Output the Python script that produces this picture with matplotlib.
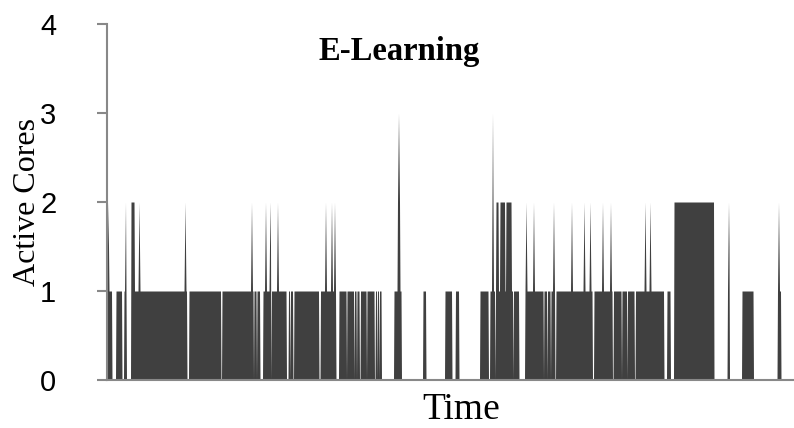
import numpy as np
import matplotlib.pyplot as plt

# level runs: start time, end time, active cores
seg_start = [0, 9, 17, 24, 27.5, 82, 115, 147, 150, 156, 164.5, 181.5, 183.5, 187,
             213.5, 232, 240, 247.5, 250, 253.5, 260, 268.5, 270.5, 272.5,
             287, 290.5, 293, 316, 338, 348.5, 373,
             383, 388.5, 389, 391.5, 393, 398, 399, 404.5, 406.5,
             418, 437, 440.5, 444, 449, 487, 506.5, 515, 520.5, 528.5,
             560, 567, 620.5, 635, 670.5]
seg_end = [5, 15, 19, 27.5, 80, 114, 146.5, 149.5, 153, 164, 179.5, 183, 186, 212,
           229, 239.5, 247, 249.5, 252.5, 259.5, 267.5, 270, 272, 274.5,
           290.5, 293, 294.5, 319, 345, 352, 381.5,
           388, 389, 391.5, 393, 398, 399, 404.5, 406, 412,
           436.5, 440, 443.5, 448, 485.5, 505.5, 514.5, 520, 527.5, 557,
           563.5, 607, 622.5, 646.5, 674]
seg_level = [1, 1, 1, 2, 1, 1, 1, 1, 1, 1, 1, 1, 1, 1,
             1, 1, 1, 1, 1, 1, 1, 1, 1, 1,
             1, 2, 1, 1, 1, 1, 1,
             1, 1, 2, 1, 2, 1, 2, 1, 1,
             1, 1, 1, 1, 1, 1, 1, 1, 1, 1,
             1, 2, 1, 1, 1]

# short bursts
spike_t = [1, 18.5, 32, 78, 144.5, 158.5, 163, 170.5, 218.5, 224.5, 227.5,
           291.5, 385.5, 419, 426.5, 446.5, 464.5, 477, 483, 495.5, 503.5,
           538, 543, 621.5, 671.5]
spike_level = [2, 2, 2, 2, 2, 2, 2, 2, 2, 2, 2,
               3, 3, 2, 2, 2, 2, 2, 2, 2, 2,
               2, 2, 2, 2]

t_end = 687
t = np.arange(0, t_end, 0.5)
base = np.zeros_like(t)
for s, e, lv in zip(seg_start, seg_end, seg_level):
    base[(t >= s) & (t < e)] = lv
cores = base.copy()
for st, lv in zip(spike_t, spike_level):
    i = int(np.argmin(np.abs(t - st)))
    cores[i] = lv
    for j in (i - 1, i + 1):
        cores[j] = max(cores[j], (lv + base[j]) / 2)

fig = plt.figure(figsize=(7.94, 4.28), dpi=100)
ax = fig.add_axes([107/794, 48/428, 1 - 107/794, 356/428])

ax.fill_between(t, 0, cores, color='#404040', linewidth=0)
ax.set_xlim(0, t_end)
ax.set_ylim(0, 4)
ax.set_yticks([0, 1, 2, 3, 4])
ax.set_xticks([])

for side in ['top', 'right']:
    ax.spines[side].set_visible(False)
for side in ['left', 'bottom']:
    ax.spines[side].set_color('#888888')
    ax.spines[side].set_linewidth(1.5)
ax.tick_params(axis='y', colors='#888888', length=7.5, width=1.5, pad=29,
               labelcolor='black', labelsize=21)
for lab in ax.get_yticklabels():
    lab.set_family('Liberation Sans')

ax.set_ylabel('Active Cores', family='Liberation Serif', fontsize=23)
ax.yaxis.set_label_coords(-0.095, 0.5)
ax.set_xlabel('Time', family='Liberation Serif', fontsize=27)
ax.xaxis.set_label_coords((461 - 107) / 687, -0.035)
ax.text(0.425, 0.9, 'E-Learning', transform=ax.transAxes, ha='center',
        va='baseline', family='Liberation Serif', fontweight='bold', fontsize=23.5)

fig.savefig('out.png', dpi=100)
